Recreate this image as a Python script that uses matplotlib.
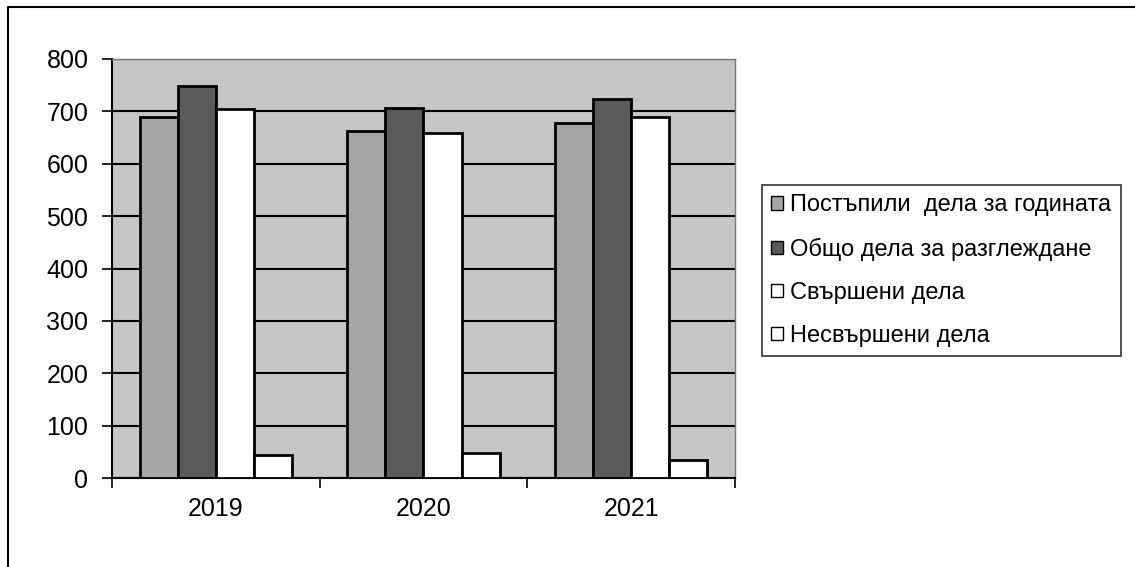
import numpy as np
import matplotlib.pyplot as plt
from matplotlib.patches import Patch
from matplotlib.lines import Line2D

plt.rcParams["font.family"] = ["Liberation Sans", "DejaVu Sans"]

years = ["2019", "2020", "2021"]
series_names = [
    "Постъпили  дела за годината",
    "Общо дела за разглеждане",
    "Свършени дела",
    "Несвършени дела",
]
received = [689, 662, 678]
total = [748, 706, 724]
completed = [704, 658, 690]
pending = [44, 47, 35]
series = [received, total, completed, pending]
colors = ["#a6a6a6", "#5a5a5a", "#ffffff", "#ffffff"]

fig = plt.figure(figsize=(11.35, 5.67), dpi=100)
ax = fig.add_axes([112 / 1135, 1 - 478 / 567, 623 / 1135, 419 / 567])
ax.set_facecolor("#c6c6c6")

x = np.arange(len(years))
width = 0.183
for i, (vals, col) in enumerate(zip(series, colors)):
    ax.bar(x + (i - 1.5) * width, vals, width, color=col,
           edgecolor="black", linewidth=2, zorder=3)

ax.set_ylim(0, 800)
ax.set_xlim(-0.5, 2.5)
ax.set_yticks(range(0, 801, 100))
ax.yaxis.grid(True, color="black", linewidth=1.5, zorder=1)
ax.set_axisbelow(True)

ax.set_xticks(x)
ax.set_xticklabels(years)
ax.set_xticks([-0.5, 0.5, 1.5, 2.5], minor=True)
ax.tick_params(axis="x", which="major", length=0, pad=14, labelsize=18)
ax.tick_params(axis="x", which="minor", length=7, width=1.2, direction="out")
ax.tick_params(axis="y", length=7, width=1.2, pad=10, labelsize=18)

for side in ["left", "bottom"]:
    ax.spines[side].set_color("black")
    ax.spines[side].set_linewidth(1.5)
for side in ["top", "right"]:
    ax.spines[side].set_color("#777777")
    ax.spines[side].set_linewidth(1)

handles = [Patch(facecolor=c, edgecolor="black", linewidth=1) for c in colors]
leg = fig.legend(handles, series_names, loc="upper left",
                 bbox_to_anchor=(762 / 1135, 1 - 185 / 567),
                 fontsize=17, frameon=True, fancybox=False,
                 edgecolor="black", handlelength=0.5, handleheight=0.5,
                 handletextpad=0.3, labelspacing=0.89, borderpad=0.4,
                 borderaxespad=0)
leg.get_frame().set_linewidth(1.2)

# outer chart border (left and top edges only visible)
fig.add_artist(Line2D([8 / 1135, 8 / 1135, 1.0], [0.0, 1 - 7 / 567, 1 - 7 / 567],
                      color="black", linewidth=1.5, transform=fig.transFigure))

fig.savefig("out.png", dpi=100)
